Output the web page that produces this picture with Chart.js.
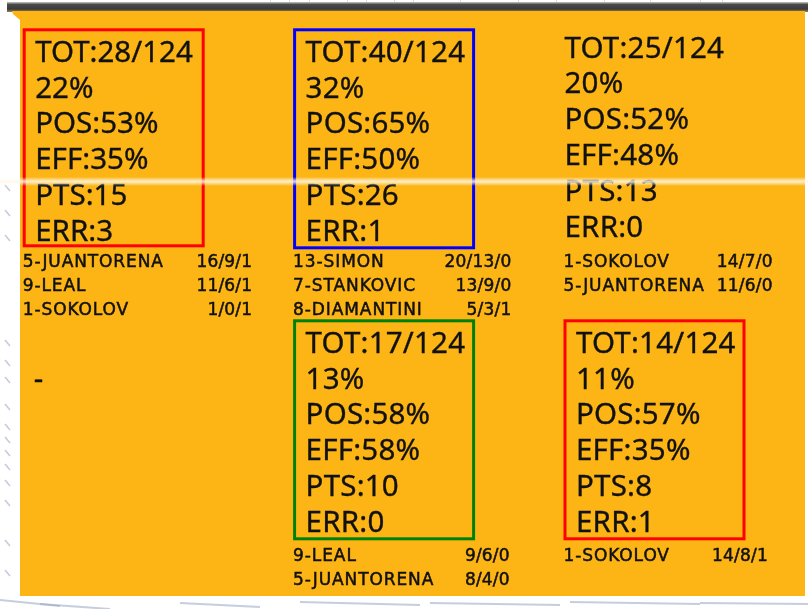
<!DOCTYPE html>
<html><head><meta charset="utf-8">
<script src="https://cdn.jsdelivr.net/npm/chart.js@4.4.1/dist/chart.umd.min.js"></script>
<style>html,body{margin:0;padding:0;background:#fff;overflow:hidden}canvas{display:block}</style>
</head><body>
<canvas id="c" width="808" height="609"></canvas>
<script>
// ---- data ----
const columns = ['Left', 'Center', 'Right'];
const rows = ['Front', 'Back'];
const zoneColumn = ['Left', 'Center', 'Right', 'Left', 'Center', 'Right'];
const zoneRow = ['Front', 'Front', 'Front', 'Back', 'Back', 'Back'];
const totalAttacks = 124;
const attacks = [28, 40, 25, null, 17, 14];
const sharePct = [22, 32, 20, null, 13, 11];
const positivePct = [53, 65, 52, null, 58, 57];
const efficiencyPct = [35, 50, 48, null, 58, 35];
const points = [15, 26, 13, null, 10, 8];
const errors = [3, 1, 0, null, 0, 1];
const zonePlayers = [
  ['5-JUANTORENA', '9-LEAL', '1-SOKOLOV'],
  ['13-SIMON', '7-STANKOVIC', '8-DIAMANTINI'],
  ['1-SOKOLOV', '5-JUANTORENA'],
  [],
  ['9-LEAL', '5-JUANTORENA'],
  ['1-SOKOLOV']
];
const zonePlayerStats = [
  ['16/9/1', '11/6/1', '1/0/1'],
  ['20/13/0', '13/9/0', '5/3/1'],
  ['14/7/0', '11/6/0'],
  [],
  ['9/6/0', '8/4/0'],
  ['14/8/1']
];

// ---- styles ----
const boxColors = ['#ff0000', '#0000ff', null, null, '#008000', '#ff0000'];
const boxHeights = [219, 221, 0, 0, 221, 221];
const boxWidth = 182;
const listTop = [239, 239, 239, 0, 242, 242];
const statsRight = [229.6, 218.4, 209.2, 0, 216.7, 204.5];
const BIG_FONT = '29.5px "Noto Sans"';
const SMALL_FONT = '17px "DejaVu Sans"';
const INK = '#111';
const ORANGE = '#FDB515';

const backdrop = {
  id: 'backdrop',
  beforeDraw(chart) {
    const ctx = chart.ctx;
    ctx.save();
    ctx.fillStyle = '#fff';
    ctx.fillRect(0, 0, chart.width, chart.height);
    ctx.strokeStyle = '#dcdcdc'; ctx.lineWidth = 1;
    [270, 289, 309, 347, 366, 394, 413, 460, 518, 556, 604, 650, 700, 722].forEach(x => {
      ctx.beginPath(); ctx.moveTo(x + 0.5, 0); ctx.lineTo(x + 0.5, 4); ctx.stroke();
    });
    const g = ctx.createLinearGradient(0, 2, 0, 12);
    g.addColorStop(0, '#c8c8c8'); g.addColorStop(0.25, '#4a4a4a');
    g.addColorStop(0.7, '#3a3a3a'); g.addColorStop(1, '#9a8450');
    ctx.fillStyle = g; ctx.fillRect(7, 2, 801, 10);
    ctx.fillStyle = ORANGE;
    ctx.beginPath();
    ctx.moveTo(12, 11); ctx.lineTo(805, 11); ctx.lineTo(805, 596);
    ctx.lineTo(20, 596); ctx.lineTo(20, 20); ctx.lineTo(13, 14); ctx.closePath();
    ctx.fill();
    // left margin marks
    ctx.strokeStyle = 'rgba(140,152,180,0.5)'; ctx.lineWidth = 1.5;
    [188, 213, 238, 343, 363, 380, 407, 427, 440, 453, 467, 483, 503, 543, 573].forEach(y => {
      ctx.beginPath(); ctx.moveTo(5, y - 3); ctx.lineTo(10, y + 3); ctx.stroke();
    });
    // bottom streaks
    ctx.strokeStyle = 'rgba(150,165,195,0.55)'; ctx.lineWidth = 2;
    [[0, 600, 60, 606], [40, 604, 110, 609], [180, 603, 260, 607], [300, 602, 420, 605],
     [430, 603, 560, 605], [570, 602, 700, 604], [700, 603, 808, 604]].forEach(s => {
      ctx.beginPath(); ctx.moveTo(s[0], s[1]); ctx.lineTo(s[2], s[3]); ctx.stroke();
    });
    ctx.restore();
  }
};

const zoneText = {
  id: 'zoneText',
  afterDatasetsDraw(chart) {
    const ctx = chart.ctx;
    const meta = chart.getDatasetMeta(0);
    ctx.save();
    meta.data.forEach((el, i) => {
      const x = el.x, y = el.y;
      const boxed = !!boxColors[i];
      if (boxed) {
        ctx.strokeStyle = boxColors[i]; ctx.lineWidth = 3;
        ctx.strokeRect(x + 1.5, y + 1.5, boxWidth - 3, boxHeights[i] - 3);
      }
      ctx.fillStyle = INK;
      ctx.strokeStyle = INK;
      ctx.font = BIG_FONT;
      ctx.textAlign = 'left'; ctx.textBaseline = 'alphabetic';
      ctx.lineWidth = 0.35;
      if (attacks[i] == null) {
        ctx.fillText('-', x + 11, y + 70);
        ctx.strokeText('-', x + 11, y + 70);
      } else {
        const lines = [
          'TOT:' + attacks[i] + '/' + totalAttacks,
          sharePct[i] + '%',
          'POS:' + positivePct[i] + '%',
          'EFF:' + efficiencyPct[i] + '%',
          'PTS:' + points[i],
          'ERR:' + errors[i]
        ];
        const tx = boxed ? x + 12.5 : x + 1;
        const ty = boxed ? y + 33.4 : y + 29.2;
        lines.forEach((t, k) => {
          ctx.fillText(t, tx, ty + k * 35.8);
          ctx.strokeText(t, tx, ty + k * 35.8);
        });
      }
      ctx.font = SMALL_FONT;
      ctx.lineWidth = 0.5;
      zonePlayers[i].forEach((name, k) => {
        const by = y + listTop[i] + k * 23.7;
        ctx.textAlign = 'left';
        ctx.letterSpacing = '0.9px';
        ctx.fillText(name, x, by);
        ctx.strokeText(name, x, by);
        ctx.letterSpacing = '0.2px';
        ctx.textAlign = 'right';
        ctx.fillText(zonePlayerStats[i][k], x + statsRight[i], by);
        ctx.strokeText(zonePlayerStats[i][k], x + statsRight[i], by);
      });
    });
    ctx.restore();
  },
  afterDraw(chart) {
    const ctx = chart.ctx;
    ctx.save();
    const g = ctx.createLinearGradient(0, 177, 0, 186);
    g.addColorStop(0, 'rgba(255,255,255,0)');
    g.addColorStop(0.45, 'rgba(255,248,230,0.8)');
    g.addColorStop(0.55, 'rgba(255,248,230,0.8)');
    g.addColorStop(1, 'rgba(255,255,255,0)');
    ctx.fillStyle = g;
    ctx.fillRect(0, 177, chart.width, 9);
    ctx.restore();
  }
};

new Chart(document.getElementById('c'), {
  type: 'scatter',
  data: {
    datasets: [{
      data: zoneColumn.map((c, i) => ({ x: c, y: zoneRow[i] })),
      pointRadius: 0,
      pointHoverRadius: 0
    }]
  },
  options: {
    responsive: false,
    animation: false,
    devicePixelRatio: 1,
    layout: { padding: { left: 22.7, right: 244.5, top: 28.3, bottom: 289.7 } },
    scales: {
      x: { type: 'category', labels: columns, offset: false, display: false },
      y: { type: 'category', labels: rows, offset: false, display: false }
    },
    plugins: { legend: { display: false }, tooltip: { enabled: false }, title: { display: false } }
  },
  plugins: [backdrop, zoneText]
});
</script>
</body></html>
